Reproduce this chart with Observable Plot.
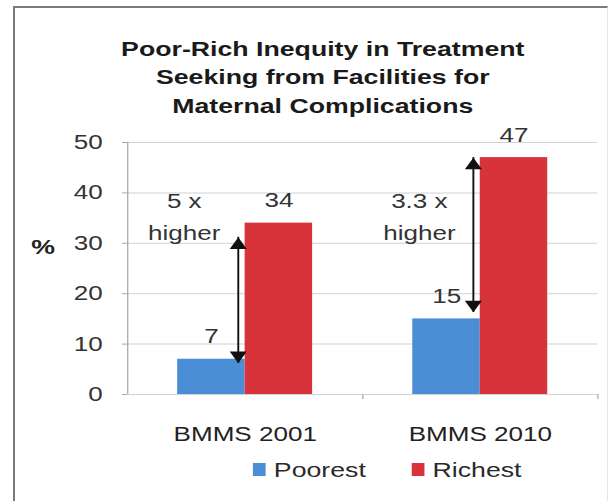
<!DOCTYPE html>
<html>
<head>
<meta charset="utf-8">
<script src="https://cdn.jsdelivr.net/npm/d3@7"></script>
<script src="https://cdn.jsdelivr.net/npm/@observablehq/plot@0.6"></script>
<style>
  html, body { margin: 0; padding: 0; background: #fff; }
  body { width: 610px; height: 501px; overflow: hidden; position: relative; font-family: "Liberation Sans", Arial, sans-serif; }
  #box { position: absolute; left: 13px; top: 6px; width: 595px; height: 520px; box-sizing: border-box;
         border-left: 2.5px solid #7a7a7a; border-top: 2.5px solid #7a7a7a; border-right: 1px solid #dde8ee; }
  /* the chart is laid out 480 wide and widened to the 610 px page */
  #chart { position: absolute; left: 0; top: 0; width: 480px; height: 501px; transform: scaleX(1.2708); transform-origin: 0 0; }
  #chart > svg { position: absolute; left: 0; top: 0; }
  .title { position: absolute; left: 28px; width: 452px; top: 35px; text-align: center; font-weight: bold;
           font-size: 21px; line-height: 28.3px; color: #1a1a1a; }
  .unit { position: absolute; left: 34px; top: 235px; transform: translateX(-50%); font-weight: bold;
          font-size: 21px; line-height: 24px; color: #222; }
  .legend { position: absolute; left: 199px; top: 453px; }
  .key-swatches { font: 21px "Liberation Sans", Arial, sans-serif !important; color: #2a2a2a !important; margin: 0 !important; }
  .key-swatch { margin-right: 36px !important; }
  .key-swatch > svg { margin-right: 6.5px !important; }
</style>
</head>
<body>
<div id="box"></div>
<div id="chart"></div>
<script>
// Treatment seeking from facilities for maternal complications, % of women
const surveys = ["BMMS 2001", "BMMS 2010"];
const groups = ["Poorest", "Richest"];
const poorest = [7, 15];
const richest = [34, 47];
const ratioText = ["5 x\nhigher", "3.3 x\nhigher"];
const arrowFrom = [6.2, 16.3];
const arrowTo = [31.2, 47];
const yTicks = [0, 10, 20, 30, 40, 50];
const colors = ["#4a8fd6", "#d8333b"];
const titleLines = ["Poor-Rich Inequity in Treatment", "Seeking from Facilities for", "Maternal Complications"];
const unitLabel = "%";

const rows = surveys.map((survey, i) => ({
  survey,
  poorest: poorest[i],
  richest: richest[i],
  ratio: ratioText[i],
  from: arrowFrom[i],
  to: arrowTo[i]
}));

// band layout: each survey band holds two adjacent bars centred in it
const band = 185;
const barW = 53.1;
const gap = (band - 2 * barW) / 2;
const arrowDx = -5.5;
const font = 20.5;
const grid = "#cdd3d8";
const axisGrey = "#a9a9a9";
const yMax = d3.max(yTicks);

const chart = document.getElementById("chart");

const title = document.createElement("div");
title.className = "title";
title.innerHTML = titleLines.join("<br>");
chart.appendChild(title);

const unit = document.createElement("div");
unit.className = "unit";
unit.textContent = unitLabel;
chart.appendChild(unit);

const plot = Plot.plot({
  width: 480,
  height: 450,
  marginLeft: 100,
  marginRight: 10,
  marginTop: 142,
  marginBottom: 56,
  style: {background: "transparent", overflow: "visible", fontFamily: "'Liberation Sans', Arial, sans-serif"},
  x: {domain: surveys, paddingInner: 0, paddingOuter: 0},
  y: {domain: [0, yMax]},
  marks: [
    Plot.ruleY(yTicks, {stroke: grid, strokeWidth: 1}),
    // value axis line along the left edge of the first band
    Plot.ruleX(surveys.slice(0, 1), {x: d => d, y1: 0, y2: yMax, dx: -band / 2, stroke: axisGrey}),
    // small ticks below the baseline at the right edge of each band
    Plot.ruleX(rows, {x: "survey", y1: 0, y2: -1, dx: band / 2, stroke: axisGrey}),
    Plot.axisY({ticks: yTicks, tickSize: 4, tickPadding: 15.7, stroke: axisGrey, fill: "#333", fontSize: font, label: null}),
    Plot.axisX({tickSize: 0, tickPadding: 32, fill: "#222", fontSize: font, label: null}),
    Plot.barY(rows, {x: "survey", y: "poorest", fill: colors[0], insetLeft: gap, insetRight: gap + barW}),
    Plot.barY(rows, {x: "survey", y: "richest", fill: colors[1], insetLeft: gap + barW, insetRight: gap}),
    Plot.text(rows, {x: "survey", y: "poorest", text: d => String(d.poorest), dx: -barW / 2, dy: -16,
                     lineAnchor: "bottom", fontSize: font, fill: "#333"}),
    Plot.text(rows, {x: "survey", y: "richest", text: d => String(d.richest), dx: barW / 2, dy: -16,
                     lineAnchor: "bottom", fontSize: font, fill: "#333"}),
    Plot.text(rows, {x: "survey", y: 30.75, text: "ratio", dx: -48, lineAnchor: "bottom", lineHeight: 1.56,
                     fontSize: font, fill: "#333"}),
    Plot.ruleX(rows, {x: "survey", y1: "from", y2: "to", dx: arrowDx, stroke: "#111", strokeWidth: 1.5}),
    Plot.dot(rows, {x: "survey", y: "to", symbol: "triangle", r: 5, fill: "#111", stroke: "none",
                    dx: arrowDx, dy: 7.8}),
    Plot.dot(rows, {x: "survey", y: "from", symbol: "triangle", r: 5, fill: "#111", stroke: "none",
                    rotate: 180, dx: arrowDx, dy: -7.8})
  ]
});
chart.appendChild(plot);

const legend = Plot.legend({
  legend: "swatches",
  className: "key",
  color: {domain: groups, range: colors},
  swatchWidth: 10,
  swatchHeight: 13
});
const holder = document.createElement("div");
holder.className = "legend";
holder.appendChild(legend);
chart.appendChild(holder);
</script>
</body>
</html>
